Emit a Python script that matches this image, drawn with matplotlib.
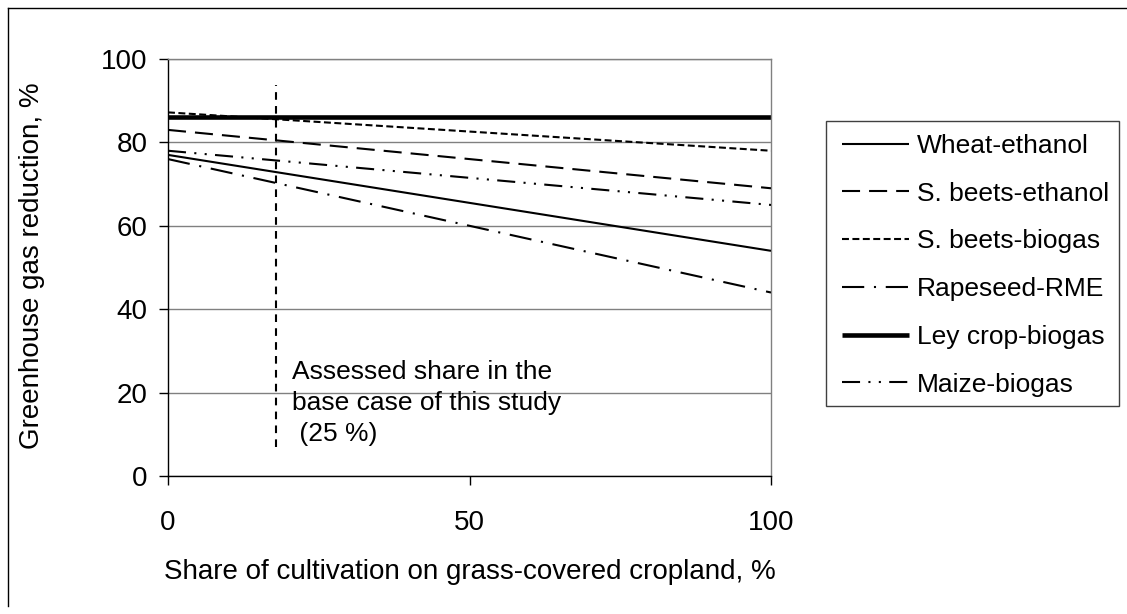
import matplotlib
matplotlib.use('Agg')
import matplotlib.pyplot as plt
from matplotlib.lines import Line2D
from matplotlib.patches import Rectangle

plt.rcParams['font.family'] = ['Liberation Sans', 'DejaVu Sans']
plt.rcParams['lines.scale_dashes'] = False

# ---- data ----
share = [0, 100]
series_names = ["Wheat-ethanol", "S. beets-ethanol", "S. beets-biogas",
                "Rapeseed-RME", "Ley crop-biogas", "Maize-biogas"]
wheat_ethanol = [77, 54]
sbeets_ethanol = [83, 69]
sbeets_biogas = [87.2, 78]
rapeseed_rme = [76, 44]
ley_crop_biogas = [86, 86]
maize_biogas = [78, 65]
marker_x = 17.9
marker_y = [7, 93.7]
x_ticks = [0, 50, 100]
y_ticks = [0, 20, 40, 60, 80, 100]

W, H = 1127, 614
fig = plt.figure(figsize=(W / 100, H / 100), dpi=100)

def fx(px):
    return px / W

def fy(py):
    return 1 - py / H

ax = fig.add_axes([fx(168), fy(476), fx(771) - fx(168), fy(59) - fy(476)])

styles = [
    dict(color='black', lw=1.5, ls='-'),
    dict(color='black', lw=1.5, ls=(0, (13, 6.5))),
    dict(color='black', lw=1.5, ls=(0, (5, 2.5))),
    dict(color='black', lw=1.5, ls=(0, (16, 7, 1.5, 7))),
    dict(color='black', lw=3.3, ls='-'),
    dict(color='black', lw=1.5, ls=(0, (13, 6, 1.5, 6, 1.5, 6))),
]
data = [wheat_ethanol, sbeets_ethanol, sbeets_biogas, rapeseed_rme,
        ley_crop_biogas, maize_biogas]
zorders = [3, 3, 3, 3, 2, 3]
handles = []
for name, vals, st, z in zip(series_names, data, styles, zorders):
    h, = ax.plot(share, vals, label=name, zorder=z, solid_capstyle='butt',
                 dash_capstyle='butt', **st)
    handles.append(h)

ax.plot([marker_x, marker_x], marker_y, color='black', lw=1.5,
        ls=(0, (5.5, 4.5)), zorder=3)

ax.set_xlim(0, 100)
ax.set_ylim(0, 100)
ax.set_xticks(x_ticks)
ax.set_yticks(y_ticks)
ax.tick_params(axis='both', direction='out', length=6.5, width=1,
               color='black', labelsize=20)
ax.tick_params(axis='x', pad=18)
ax.tick_params(axis='y', pad=8)
ax.grid(axis='y', color='#808080', lw=1)
ax.set_axisbelow(True)
for s in ['top', 'right']:
    ax.spines[s].set_color('#808080')
    ax.spines[s].set_linewidth(1)
for s in ['left', 'bottom']:
    ax.spines[s].set_color('black')
    ax.spines[s].set_linewidth(1)

fig.text(fx(470), fy(572), "Share of cultivation on grass-covered cropland, %",
         ha='center', va='center', fontsize=20)
fig.text(fx(32), fy(266), "Greenhouse gas reduction, %", rotation=90,
         ha='center', va='center', fontsize=20)

fig.text(fx(292), fy(403), "Assessed share in the\nbase case of this study\n (25 %)",
         ha='left', va='center', fontsize=19, linespacing=1.37)

# legend frame and legend
fig.patches.append(Rectangle((fx(826), fy(406)), fx(1119) - fx(826), fy(121) - fy(406),
                             transform=fig.transFigure, fill=False,
                             edgecolor='#404040', lw=1))
leg = fig.legend(handles=handles, loc='upper left',
                 bbox_to_anchor=(fx(834), fy(126)), bbox_transform=fig.transFigure,
                 frameon=False, fontsize=19, handlelength=2.55,
                 handletextpad=0.3, labelspacing=0.9, borderpad=0.3,
                 borderaxespad=0)

# outer chart border
fig.add_artist(Line2D([fx(8), fx(8)], [fy(8), fy(606)], transform=fig.transFigure,
                      color='black', lw=1))
fig.add_artist(Line2D([fx(8), fx(1127)], [fy(8), fy(8)], transform=fig.transFigure,
                      color='black', lw=1))

fig.savefig('out.png', dpi=100)
